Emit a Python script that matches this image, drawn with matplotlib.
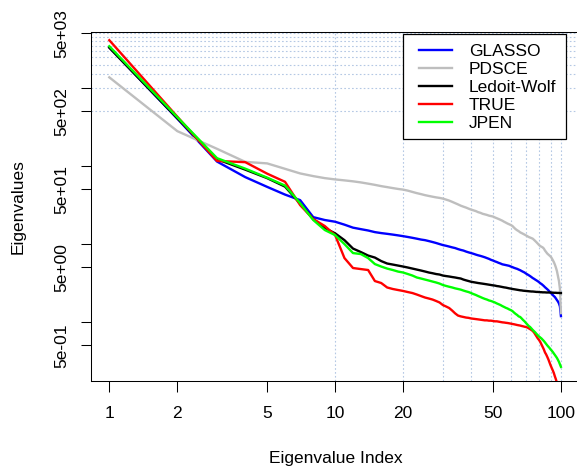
import matplotlib
matplotlib.use('Agg')
import matplotlib.pyplot as plt
import numpy as np
from matplotlib.lines import Line2D
from matplotlib.patches import Rectangle

plt.rcParams['font.family'] = ['Liberation Sans', 'DejaVu Sans']

# ---------------- data ----------------
index = np.arange(1, 101)

glasso = [3330, 405, 114, 72.0, 54.0, 43.0, 36.5, 22.1, 20.3, 19.3,
          17.7, 16.2, 15.5, 14.9, 14.2, 13.8, 13.5, 13.2, 12.9, 12.6,
          12.3, 12.0, 11.7, 11.4, 11.2, 10.9, 10.6, 10.3, 9.98, 9.69,
          9.49, 9.27, 9.05, 8.87, 8.61, 8.40, 8.24, 8.00, 7.81, 7.65,
          7.49, 7.31, 7.16, 7.04, 6.90, 6.76, 6.60, 6.45, 6.27, 6.14,
          5.99, 5.87, 5.73, 5.62, 5.49, 5.43, 5.37, 5.31, 5.25, 5.14,
          5.05, 4.95, 4.87, 4.80, 4.70, 4.61, 4.50, 4.40, 4.31, 4.18,
          4.08, 3.98, 3.88, 3.77, 3.66, 3.58, 3.49, 3.41, 3.33, 3.24,
          3.14, 3.07, 2.98, 2.89, 2.79, 2.71, 2.63, 2.55, 2.46, 2.37,
          2.30, 2.22, 2.15, 2.09, 2.00, 1.91, 1.83, 1.73, 1.58, 1.19]

pdsce = [1370, 280, 166, 113, 108, 92.0, 80.3, 74.2, 69.9, 67.3,
         65.4, 63.6, 61.6, 59.4, 57.3, 55.2, 53.6, 52.1, 50.8, 49.8,
         48.3, 46.5, 44.9, 43.6, 42.3, 41.3, 40.4, 39.6, 39.0, 38.2,
         37.1, 36.0, 34.7, 33.4, 32.2, 31.0, 30.1, 29.3, 28.4, 27.6,
         27.0, 26.4, 25.6, 25.1, 24.4, 24.0, 23.6, 23.1, 22.8, 22.5,
         21.9, 21.4, 20.9, 20.4, 19.9, 19.3, 18.8, 18.3, 17.9, 17.5,
         17.0, 16.2, 15.5, 15.0, 14.6, 14.1, 13.8, 13.5, 13.2, 12.9,
         12.6, 12.3, 12.1, 11.9, 11.7, 11.3, 10.9, 10.5, 10.1, 9.69,
         9.41, 9.22, 9.05, 8.74, 8.24, 7.88, 7.54, 7.32, 7.11, 6.90,
         6.60, 6.22, 5.87, 5.45, 4.99, 4.50, 3.88, 3.35, 2.65, 1.30]

ledoit_wolf = [3284, 410, 122, 89.8, 69.9, 54.4, 32.9, 20.9, 16.0, 13.7,
               11.2, 8.74, 7.88, 7.11, 6.70, 6.04, 5.62, 5.45, 5.29, 5.14,
               4.99, 4.84, 4.70, 4.57, 4.44, 4.31, 4.22, 4.12, 4.06, 3.94,
               3.88, 3.83, 3.77, 3.72, 3.66, 3.61, 3.50, 3.42, 3.35, 3.28,
               3.24, 3.20, 3.16, 3.13, 3.10, 3.07, 3.04, 3.01, 2.98, 2.95,
               2.93, 2.89, 2.87, 2.84, 2.81, 2.78, 2.76, 2.73, 2.70, 2.68,
               2.65, 2.63, 2.61, 2.59, 2.57, 2.55, 2.54, 2.52, 2.51, 2.50,
               2.49, 2.48, 2.47, 2.46, 2.46, 2.45, 2.44, 2.43, 2.43, 2.42,
               2.41, 2.41, 2.40, 2.40, 2.40, 2.39, 2.39, 2.39, 2.39, 2.39,
               2.38, 2.38, 2.37, 2.37, 2.37, 2.36, 2.36, 2.36, 2.35, 2.35]

true_vals = [4100, 429, 116, 112, 79.8, 62.7, 31.5, 20.9, 17.0, 13.0,
             6.60, 4.92, 4.77, 4.64, 3.35, 3.16, 2.77, 2.65, 2.57, 2.50,
             2.42, 2.35, 2.25, 2.15, 2.06, 2.00, 1.94, 1.86, 1.78, 1.65,
             1.58, 1.51, 1.40, 1.29, 1.21, 1.18, 1.16, 1.14, 1.13, 1.11,
             1.10, 1.09, 1.08, 1.07, 1.06, 1.05, 1.05, 1.04, 1.04, 1.03,
             1.02, 1.02, 1.01, 1.00, 0.99, 0.985, 0.977, 0.971, 0.962, 0.953,
             0.943, 0.935, 0.925, 0.915, 0.907, 0.900, 0.889, 0.880, 0.870, 0.863,
             0.850, 0.830, 0.810, 0.790, 0.767, 0.734, 0.692, 0.652, 0.615, 0.588,
             0.555, 0.515, 0.479, 0.445, 0.407, 0.384, 0.357, 0.331, 0.303, 0.278,
             0.258, 0.240, 0.222, 0.201, 0.184, 0.166, 0.147, 0.127, 0.107, 0.087]

jpen = [3433, 423, 126, 92.5, 70.9, 56.1, 33.4, 20.3, 15.1, 13.0,
        9.98, 7.65, 7.43, 6.60, 5.53, 5.14, 4.84, 4.64, 4.43, 4.31,
        4.12, 3.94, 3.72, 3.61, 3.50, 3.40, 3.30, 3.21, 3.11, 2.98,
        2.90, 2.83, 2.77, 2.70, 2.65, 2.60, 2.53, 2.47, 2.42, 2.35,
        2.28, 2.22, 2.15, 2.09, 2.03, 1.98, 1.94, 1.89, 1.86, 1.82,
        1.78, 1.73, 1.69, 1.65, 1.60, 1.56, 1.52, 1.49, 1.45, 1.42,
        1.38, 1.32, 1.27, 1.23, 1.18, 1.16, 1.11, 1.06, 1.02, 0.971,
        0.929, 0.889, 0.863, 0.826, 0.790, 0.762, 0.734, 0.702, 0.676, 0.652,
        0.633, 0.615, 0.592, 0.571, 0.547, 0.523, 0.501, 0.482, 0.465, 0.445,
        0.430, 0.413, 0.395, 0.378, 0.362, 0.346, 0.327, 0.308, 0.286, 0.266]

series_names = ['GLASSO', 'PDSCE', 'Ledoit-Wolf', 'TRUE', 'JPEN']
series_colors = ['#0000ff', '#bebebe', '#000000', '#ff0000', '#00ff00']
series_values = [glasso, pdsce, ledoit_wolf, true_vals, jpen]

x_ticks = [1, 2, 5, 10, 20, 50, 100]
x_tick_labels = ['1', '2', '5', '10', '20', '50', '100']
y_ticks = [0.5, 1, 5, 10, 50, 100, 500, 1000, 5000]
y_tick_labels = ['5e-01', '', '5e+00', '', '5e+01', '', '5e+02', '', '5e+03']

grid_x = [10, 20, 30, 40, 50, 60, 70, 80, 90, 100]
grid_y = [500, 1000, 1500, 2000, 2500, 3000, 3500, 4000, 4500, 5000]

# ---------------- figure ----------------
W, H = 577, 466
fig = plt.figure(figsize=(W / 100, H / 100), dpi=100)
left, right, top, bottom = 90.7, 579.0, 32.0, 380.7
ax = fig.add_axes([left / W, 1 - bottom / H, (right - left) / W, (bottom - top) / H])
ax.set_xscale('log')
ax.set_yscale('log')
ax.set_xlim(10 ** -0.0824, 10 ** 2.080)
ax.set_ylim(10 ** -0.7526, 10 ** 3.718)

grid_col = '#b4c8e4'
for g in grid_x:
    ax.axvline(g, color=grid_col, ls=(0, (1.5, 2.0)), lw=0.8, zorder=1)
for g in grid_y:
    ax.axhline(g, color=grid_col, ls=(0, (1.5, 2.0)), lw=0.8, zorder=1)

for vals, col in zip(series_values, series_colors):
    ax.plot(index, vals, color=col, lw=1.7, zorder=3)

ax.set_xticks(x_ticks)
ax.set_xticklabels(x_tick_labels)
ax.set_yticks(y_ticks)
ax.set_yticklabels(y_tick_labels)
ax.minorticks_off()
ax.tick_params(axis='x', length=7.9, width=0.75, pad=10.0, labelsize=12.5)
ax.tick_params(axis='y', length=7.2, width=0.75, pad=8.0, labelsize=12.5)
for lbl in ax.get_yticklabels():
    lbl.set_rotation(90)
    lbl.set_va('center')
    lbl.set_ha('right')
for s in ax.spines.values():
    s.set_linewidth(0.75)

ax.set_xlabel('Eigenvalue Index', fontsize=12.5)
ax.xaxis.set_label_coords(0.5024, (bottom - 459) / (bottom - top))
ax.xaxis.label.set_va('center')
ax.set_ylabel('Eigenvalues', fontsize=12.5)
ax.yaxis.set_label_coords((18 - left) / (right - left), 0.5)
ax.yaxis.label.set_va('center')
ax.yaxis.label.set_ha('center')

# ---------------- legend (R-style box) ----------------
def fx(px):
    return px / W

def fy(py):
    return 1 - py / H

fig.patches.append(Rectangle((fx(403), fy(139)), fx(566) - fx(403), fy(34) - fy(139),
                             transform=fig.transFigure, facecolor='white',
                             edgecolor='black', lw=0.9, zorder=10))
rows = [50, 68, 86, 104, 122]
for name, col, ry in zip(series_names, series_colors, rows):
    fig.lines.append(Line2D([fx(419), fx(452)], [fy(ry), fy(ry)], color=col, lw=1.7,
                            transform=fig.transFigure, zorder=11))
    fig.text(fx(469), fy(ry + 1), name, fontsize=12.5, va='center', ha='left', zorder=12)

fig.savefig('out.png', dpi=100)
